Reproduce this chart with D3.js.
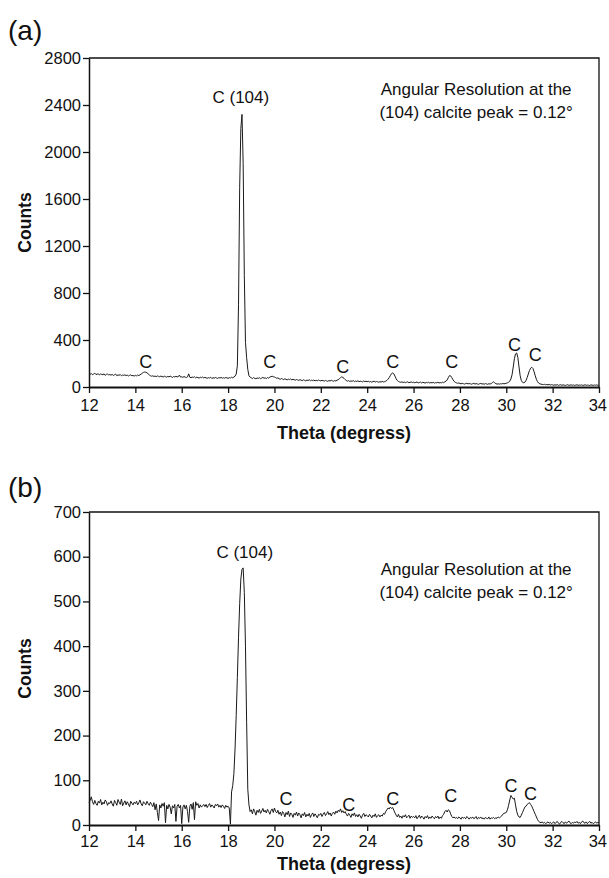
<!DOCTYPE html>
<html>
<head>
<meta charset="utf-8">
<script src="https://cdnjs.cloudflare.com/ajax/libs/d3/7.8.5/d3.min.js"></script>
<style>
  body { margin: 0; background: #fff; }
  svg text { font-family: "Liberation Sans", Arial, Helvetica, sans-serif; fill: #111; }
</style>
</head>
<body>
<svg id="chart" width="609" height="878"></svg>
<script>
const thetaStart = 12;
const thetaStep = 0.05;

// panel (a)
const countsA = [
  112,108,115,104,110,118,106,109,113,102,111,107,104,112,99,108,110,103,106,101,
  107,98,104,110,96,103,100,106,95,102,99,104,97,101,94,100,103,96,98,93,
  99,95,102,97,104,110,118,124,127,126,121,112,103,96,92,95,90,93,88,94,
  91,87,93,89,85,92,88,84,90,86,93,87,82,89,85,91,86,88,101,84,
  87,82,89,84,80,86,112,83,79,85,81,87,78,84,80,76,83,79,85,77,
  82,78,74,80,76,83,72,79,75,81,77,73,80,76,82,74,79,75,81,77,
  74,80,76,83,78,85,92,110,180,700,1700,2200,2320,1900,950,380,250,150,95,84,
  78,72,80,74,70,77,73,79,71,76,82,74,78,72,80,76,84,88,92,87,
  85,80,74,78,70,66,72,68,63,70,65,61,67,63,69,60,66,62,58,64,
  60,56,63,58,54,61,57,52,59,55,62,53,58,54,60,51,57,53,59,55,
  52,57,54,50,56,52,48,55,51,57,53,49,55,51,58,62,70,80,86,82,
  74,63,55,50,54,47,52,48,55,46,51,47,53,45,50,47,44,51,46,49,
  45,49,43,47,41,46,50,42,47,44,40,46,42,48,43,45,50,56,66,80,
  98,114,120,112,92,70,55,47,43,40,44,38,42,37,41,44,36,40,43,38,
  41,36,39,43,35,38,42,34,40,37,33,39,36,41,34,38,35,40,33,37,
  36,40,34,38,35,41,37,44,50,60,80,97,95,80,62,48,40,35,32,34,
  30,27,31,28,25,29,32,26,30,27,24,28,31,25,29,26,23,28,30,26,
  27,24,29,26,23,28,25,29,38,44,36,28,25,27,24,28,26,30,27,29,
  32,35,40,50,68,105,170,240,282,290,250,170,95,55,40,36,40,55,80,110,
  140,160,168,158,130,95,65,45,33,27,24,22,20,23,19,21,18,22,17,20,
  18,15,19,16,20,14,17,19,15,18,16,13,17,19,14,16,18,15,17,14,
  16,19,14,17,15,18,13,16,19,14,17,15,13,18,16,14,17,15,18,14,
  16
];

// panel (b)
const countsB = [
  50,55,63,52,46,55,48,44,53,49,57,45,51,47,56,52,44,50,48,54,
  47,42,55,50,44,57,51,46,58,43,49,54,45,52,47,41,53,49,45,51,
  48,53,45,50,56,47,43,52,49,45,53,48,44,51,46,41,50,34,47,28,
  10,45,38,48,42,50,5,44,36,46,40,25,43,38,46,8,42,46,38,44,
  3,40,45,36,44,30,6,42,47,35,50,12,52,44,48,38,45,40,43,46,
  41,46,39,44,48,40,45,42,38,46,43,47,40,44,39,45,42,37,44,40,
  42,38,2,74,88,115,170,245,330,420,495,550,572,575,520,400,230,80,45,30,
  34,25,36,30,22,33,28,35,26,31,37,29,33,27,35,30,24,32,36,28,
  38,30,27,33,24,29,21,30,26,18,28,23,31,19,27,24,17,26,22,29,
  20,27,23,16,25,21,28,18,24,20,26,17,23,27,19,25,21,16,24,22,
  26,19,24,28,21,25,30,23,27,20,26,29,24,31,27,33,30,36,28,32,
  27,30,24,20,26,22,17,25,21,27,19,23,18,24,20,15,22,26,19,23,
  21,18,24,20,16,22,19,25,17,21,23,18,22,20,26,24,30,34,38,36,
  40,37,39,33,27,22,18,24,17,20,15,21,18,23,16,19,22,15,20,17,
  19,16,21,14,18,22,15,20,17,13,19,16,21,14,18,15,20,17,14,19,
  16,20,14,18,15,21,24,30,33,29,34,32,25,19,16,18,15,17,14,18,
  16,13,18,15,17,14,19,16,13,17,15,18,14,16,19,13,17,15,18,14,
  16,13,17,15,14,18,13,16,15,17,14,16,15,18,16,18,20,24,26,27,
  28,34,44,56,66,62,58,60,45,30,22,18,17,22,28,34,40,42,46,48,
  50,46,42,36,30,24,18,12,8,6,5,7,4,6,3,5,7,4,6,3,
  5,7,3,6,8,4,2,6,8,5,3,7,4,6,9,5,3,6,4,7,
  5,8,4,6,3,7,9,5,4,7,3,6,8,4,6,3,5,7,4,6,
  5
];

const xTicks = [12, 14, 16, 18, 20, 22, 24, 26, 28, 30, 32, 34];
const yTicksA = [0, 400, 800, 1200, 1600, 2000, 2400, 2800];
const yTicksB = [0, 100, 200, 300, 400, 500, 600, 700];

// peak labels: [theta, count] where the label baseline sits
const peakThetaA = [14.45, 19.8, 22.95, 25.1, 27.65, 30.35, 31.25];
const peakCountA = [162, 162, 119, 162, 162, 306, 221];
const peakThetaB = [20.5, 23.2, 25.1, 27.6, 30.2, 31.05];
const peakCountB = [45, 31, 45, 52, 74, 56];

const mainPeakA = [18.55, 2417];
const mainPeakB = [18.72, 597];
const noteA = [28.7, 2485];
const noteB = [28.7, 560];
const noteLines = ["Angular Resolution at the", "(104) calcite peak = 0.12\u00B0"];

const svg = d3.select("#chart");

function drawPanel(cfg) {
    const x = d3.scaleLinear().domain([12, 34]).range([cfg.left, cfg.right]);
    const y = d3.scaleLinear().domain([0, cfg.yMax]).range([cfg.bottom, cfg.top]);
    const g = svg.append("g");

    // panel letter
    g.append("text")
        .attr("x", 8)
        .attr("y", cfg.letterY)
        .attr("font-size", 28)
        .text(cfg.letter);

    // top and right border of the frame
    g.append("path")
        .attr("d", `M${x(12)},${y(cfg.yMax)}H${x(34)}V${y(0)}`)
        .attr("fill", "none")
        .attr("stroke", "#111")
        .attr("stroke-width", 1.3);

    // the trace
    const line = d3.line()
        .x((d, i) => x(thetaStart + i * thetaStep))
        .y(d => y(d));
    g.append("path")
        .datum(cfg.counts)
        .attr("d", line)
        .attr("fill", "none")
        .attr("stroke", "#1a1a1a")
        .attr("stroke-width", 1)
        .attr("stroke-linejoin", "round");

    const yAxis = g.append("g")
        .attr("transform", `translate(${x(12)},0)`)
        .call(d3.axisLeft(y).tickValues(cfg.yTicks).tickFormat(d3.format("d"))
            .tickSize(6).tickPadding(2).tickSizeOuter(0));
    const xAxis = g.append("g")
        .attr("transform", `translate(0,${y(0)})`)
        .call(d3.axisBottom(x).tickValues(xTicks).tickFormat(d3.format("d"))
            .tickSize(6).tickPadding(cfg.xPad).tickSizeOuter(0));

    [yAxis, xAxis].forEach(a => {
        a.attr("font-size", 16.5).attr("font-family", null);
        a.selectAll("line").attr("stroke", "#111").attr("stroke-width", 1.3);
        a.selectAll("text").attr("fill", "#111");
    });
    yAxis.select(".domain").attr("stroke", "#111").attr("stroke-width", 1.5);
    xAxis.select(".domain").attr("stroke", "#111").attr("stroke-width", 2.2);
    // keep the last tick label inside the page
    xAxis.selectAll(".tick text").filter(d => d === 34).attr("dx", "-0.1em");

    // axis titles
    g.append("text")
        .attr("transform", `translate(31,${(cfg.top + cfg.bottom) / 2}) rotate(-90)`)
        .attr("text-anchor", "middle")
        .attr("font-size", 17.5)
        .attr("font-weight", "bold")
        .text("Counts");
    g.append("text")
        .attr("x", (cfg.left + cfg.right) / 2)
        .attr("y", cfg.bottom + cfg.titleGap)
        .attr("text-anchor", "middle")
        .attr("font-size", 18)
        .attr("font-weight", "bold")
        .text("Theta (degress)");

    // peak labels
    g.selectAll(".peak")
        .data(cfg.peakTheta)
        .enter().append("text")
        .attr("class", "peak")
        .attr("x", d => x(d))
        .attr("y", (d, i) => y(cfg.peakCount[i]))
        .attr("text-anchor", "middle")
        .attr("font-size", 18)
        .text("C");

    g.append("text")
        .attr("x", x(cfg.mainPeak[0]))
        .attr("y", y(cfg.mainPeak[1]))
        .attr("text-anchor", "middle")
        .attr("font-size", 17)
        .text("C (104)");

    const note = g.append("text")
        .attr("x", x(cfg.note[0]))
        .attr("y", y(cfg.note[1]))
        .attr("text-anchor", "middle")
        .attr("font-size", 17);
    note.selectAll("tspan")
        .data(noteLines)
        .enter().append("tspan")
        .attr("x", x(cfg.note[0]))
        .attr("dy", (d, i) => i === 0 ? 0 : "1.35em")
        .text(d => d);
}

drawPanel({
    letter: "(a)", letterY: 40,
    left: 89, right: 599, top: 58, bottom: 387, yMax: 2800,
    xPad: 6, titleGap: 52,
    counts: countsA, yTicks: yTicksA,
    peakTheta: peakThetaA, peakCount: peakCountA,
    mainPeak: mainPeakA, note: noteA
});

drawPanel({
    letter: "(b)", letterY: 497,
    left: 89, right: 599, top: 512, bottom: 825, yMax: 700,
    xPad: 4, titleGap: 45,
    counts: countsB, yTicks: yTicksB,
    peakTheta: peakThetaB, peakCount: peakCountB,
    mainPeak: mainPeakB, note: noteB
});
</script>
</body>
</html>
